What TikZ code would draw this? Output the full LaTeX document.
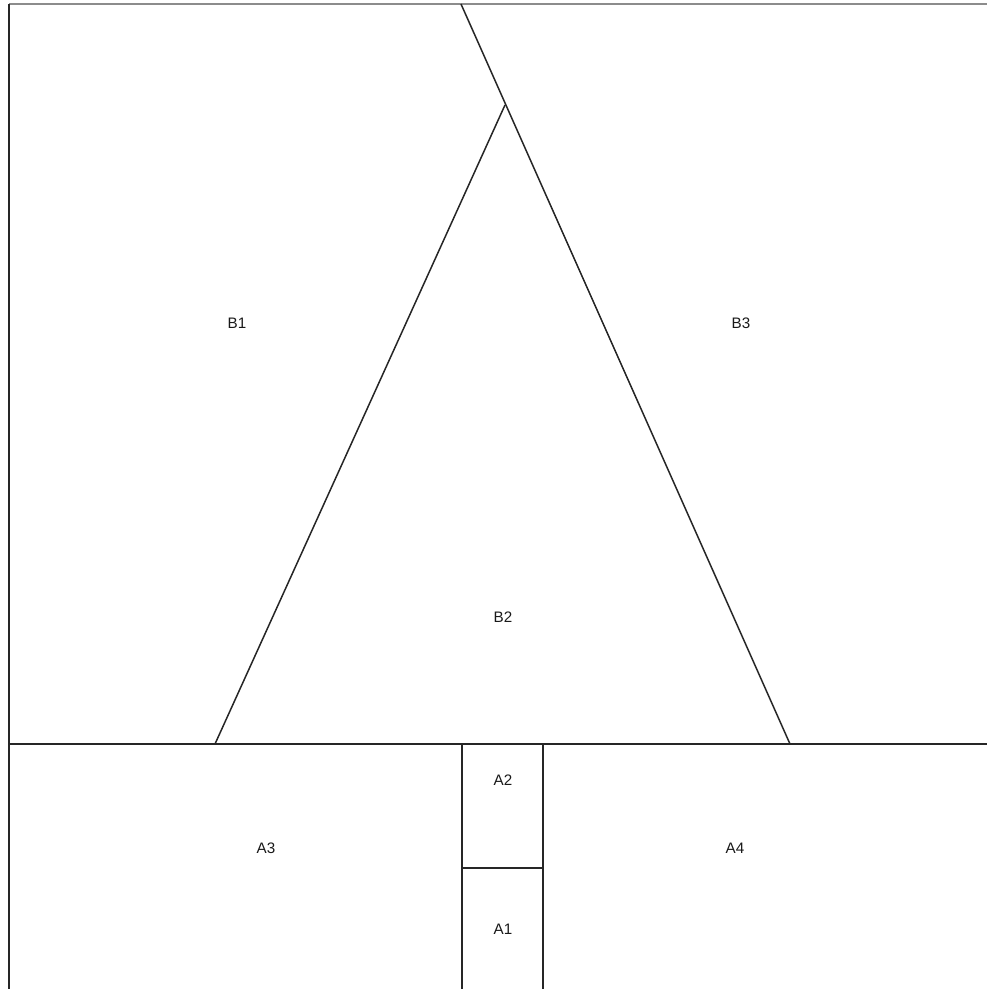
\documentclass[tikz,border=0pt]{standalone}
\usepackage{fontspec}
\setmainfont{Liberation Sans}
\usetikzlibrary{calc}
\tikzset{
  plan line/.style={line width=0.75pt,black!85},
  top line/.style={line width=0.9pt,black!45},
  area label/.style={font=\fontsize{7.6}{8}\selectfont,inner sep=0pt,text=black!90},
}

\begin{document}
\begin{tikzpicture}[x=0.5pt,y=-0.5pt]
  \useasboundingbox (0,0) rectangle (987,989);
  \coordinate (tl) at (9,4);
  \coordinate (tr) at (987,4);
  \coordinate (bl) at (9,989);
  \coordinate (ml) at (9,744);
  \coordinate (mr) at (987,744);
  \coordinate (top) at (461,4);
  \coordinate (apex) at (505,105);
  \coordinate (foot1) at (215,744);
  \coordinate (foot2) at (790,744);
  \coordinate (c1) at (462,744);
  \coordinate (c2) at (543,744);
  \coordinate (c3) at (462,868);
  \coordinate (c4) at (543,868);
  \draw[top line] (tl) -- (tr);
  \draw[plan line] (tl) -- (bl);
  \draw[plan line] (ml) -- (mr);
  \draw[plan line] (top) -- (foot2);
  \draw[plan line] (apex) -- (foot1);
  \draw[plan line] (c1) -- (462,989);
  \draw[plan line] (c2) -- (543,989);
  \draw[plan line] (c3) -- (c4);
  \node[area label] (b1) at (237,323) {B1};
  \node[area label] (b2) at (503,617) {B2};
  \node[area label] (b3) at (741,323) {B3};
  \node[area label] (a1) at (503,929) {A1};
  \node[area label] (a2) at (503,780) {A2};
  \node[area label] (a3) at (266,848) {A3};
  \node[area label] (a4) at (735,848) {A4};
\end{tikzpicture}
\end{document}
